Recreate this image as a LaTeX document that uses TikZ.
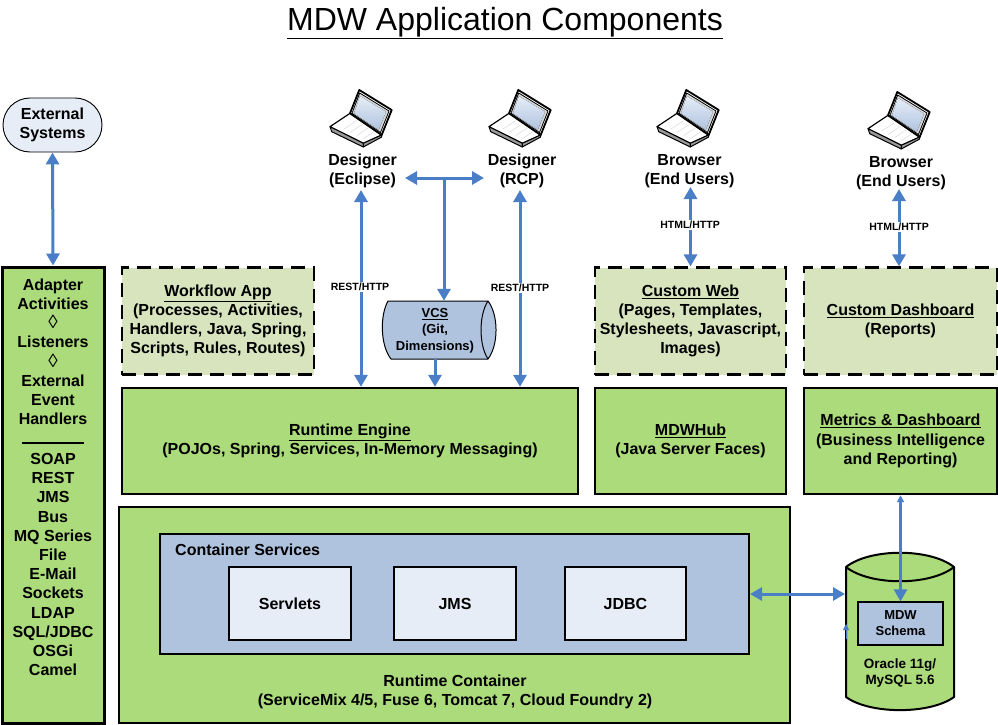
\documentclass[tikz,border=0pt]{standalone}
\usepackage{fontspec}
\setmainfont{Liberation Sans}
\usetikzlibrary{arrows.meta,calc,shapes.misc}

\definecolor{boxgreen}{HTML}{ABDB7A}
\definecolor{palegreen}{HTML}{D7E4BD}
\definecolor{boxblue}{HTML}{AFC3DF}
\definecolor{paleblue}{HTML}{E6EDF7}
\definecolor{linkblue}{HTML}{4A7EC6}

\newcommand{\lozengemark}{{\normalfont\fontsize{19}{19}\selectfont ◊}}

\tikzset{
  basetext/.style={font=\bfseries\fontsize{16}{19.2}\selectfont,align=center,text=black,inner sep=0pt},
  greenbox/.style={basetext,draw=black,fill=boxgreen,line width=2.4pt},
  dashbox/.style={basetext,draw=black,fill=palegreen,line width=2.2pt,dash pattern=on 14pt off 8pt},
  bluebox/.style={basetext,draw=black,fill=boxblue,line width=2pt},
  palebox/.style={basetext,draw=black,fill=paleblue,line width=2pt},
  linklabel/.style={font=\bfseries\fontsize{10.5}{12}\selectfont,fill=white,inner sep=1pt,text=black},
  smalltext/.style={basetext,font=\bfseries\fontsize{13.5}{16}\selectfont},
  biarrow/.style={{Triangle[length=12pt,width=13pt]}-{Triangle[length=12pt,width=13pt]},draw=linkblue,line width=3pt},
  onearrow/.style={-{Triangle[length=12pt,width=13pt]},draw=linkblue,line width=3pt},
  laptop/.pic={
    \draw[fill=white,draw=black,line width=1.2pt,line join=round]
      (0,36.7) -- (20,23.3) -- (51.7,45) -- (33.3,53.3) -- cycle;
    \draw[fill=black!40,draw=black,line width=1pt,line join=round]
      (0,36.7) -- (33.3,53.3) -- (33.3,57) -- (1.7,41.7) -- cycle;
    \draw[fill=black!40,draw=black,line width=1pt,line join=round]
      (33.3,53.3) -- (51.7,45) -- (51.7,47) -- (33.3,57) -- cycle;
    \foreach \row in {0.2,0.4,0.6,0.8}
      \draw[black!15,line width=0.5pt] ($(7,36)!\row!(40,52)$) -- ($(21,27)!\row!(50,45)$);
    \draw[fill=white,draw=black,line width=1.8pt,line join=round]
      (29.3,0) -- (61.7,20) -- (51.7,45) -- (20,23.3) -- cycle;
    \draw[fill=black!15,draw=black,line width=0.8pt,line join=round]
      (29.7,3) -- (59,21) -- (50.5,42.5) -- (22,23.3) -- cycle;
    \fill[top color=paleblue,bottom color=boxblue] (30,6) -- (56,21.7) -- (48.7,40) -- (24,23.3) -- cycle;
  }
}

\begin{document}
\begin{tikzpicture}[x=1pt,y=-1pt]
  \useasboundingbox (0,0) rectangle (998,725);

  \node[font=\fontsize{32}{36}\selectfont,inner sep=0pt] (title) at (505,23) {\underline{MDW Application Components}};

  % left column
  \node[basetext,draw=black,fill=paleblue,line width=0.9pt,rounded rectangle,minimum width=99pt,minimum height=54pt] (extsys) at (52.5,125) {External\\Systems};
  \node[greenbox,line width=3pt,minimum width=102pt,minimum height=456pt] (adapter) at (53,495) {};
  \node[basetext] (adaptertext) at (53,477.2) {Adapter\\Activities\\\lozengemark\\Listeners\\\lozengemark\\External\\Event\\Handlers\\\rule{63pt}{2pt}\\[1.4pt]SOAP\\REST\\JMS\\Bus\\MQ Series\\File\\E-Mail\\Sockets\\LDAP\\SQL/JDBC\\OSGi\\Camel};

  % laptops
  \pic at (330,90) {laptop};
  \pic at (489,90) {laptop};
  \pic at (657,90) {laptop};
  \pic at (868,92) {laptop};

  \node[basetext] (eclipse) at (362.5,171) {Designer\\(Eclipse)};
  \node[basetext] (rcp) at (522,171) {Designer\\(RCP)};
  \node[basetext] (browser) at (689.5,171) {Browser\\(End Users)};
  \node[basetext] (dashbrowser) at (901,173) {Browser\\(End Users)};

  % top row of components
  \node[dashbox,minimum width=192pt,minimum height=107pt] (workflow) at (218,321) {\underline{Workflow App}\\(Processes, Activities,\\Handlers, Java, Spring,\\Scripts, Rules, Routes)};
  \node[dashbox,minimum width=191pt,minimum height=107pt] (customweb) at (690.5,321) {\underline{Custom Web}\\(Pages, Templates,\\Stylesheets, Javascript,\\Images)};
  \node[dashbox,minimum width=193pt,minimum height=107pt] (customdash) at (900.5,321) {\underline{Custom Dashboard}\\(Reports)};

  % version control barrel
  \draw[fill=boxblue,line width=1pt,line join=round]
    (388,301) -- (488,301) .. controls (498.7,315) and (498.7,345) .. (488,359)
    -- (391,359) .. controls (380,345) and (380,315) .. (388,301) -- cycle;
  \draw[line width=1pt] (488,301) .. controls (478.7,315) and (478.7,345) .. (488,359);
  \node[inner sep=0pt,minimum width=113pt,minimum height=58pt] (vcs) at (439.5,330) {};
  \node[smalltext,font=\bfseries\fontsize{13}{16.5}\selectfont] (vcstext) at (435,330.5) {\underline{VCS}\\(Git,\\Dimensions)};

  % middle row
  \node[greenbox,minimum width=456pt,minimum height=106pt] (engine) at (350,441) {\underline{Runtime Engine}\\(POJOs, Spring, Services, In-Memory Messaging)};
  \node[greenbox,minimum width=191pt,minimum height=106pt] (hub) at (690.5,441) {\underline{MDWHub}\\(Java Server Faces)};
  \node[greenbox,minimum width=193pt,minimum height=106pt] (metrics) at (900.5,441) {\underline{Metrics \& Dashboard}\\(Business Intelligence\\and Reporting)};

  % container
  \node[greenbox,minimum width=671pt,minimum height=216pt] (container) at (454.5,615) {};
  \node[basetext] (containertext) at (455,692) {Runtime Container\\(ServiceMix 4/5, Fuse 6, Tomcat 7, Cloud Foundry 2)};
  \node[bluebox,minimum width=589pt,minimum height=120pt] (services) at (454.5,594) {};
  \node[basetext,anchor=west] (servicestext) at (175,550) {Container Services};
  \node[palebox,minimum width=122pt,minimum height=73pt] (servlets) at (290,603.5) {Servlets};
  \node[palebox,minimum width=122pt,minimum height=73pt] (jms) at (455,603.5) {JMS};
  \node[palebox,minimum width=121pt,minimum height=73pt] (jdbc) at (625.5,603.5) {JDBC};

  % database
  \draw[fill=boxgreen,line width=2pt,line join=round]
    (846,567) .. controls (870,548) and (930,548) .. (954,567) -- (954,697)
    .. controls (930,714.5) and (870,714.5) .. (846,697) -- cycle;
  \draw[line width=2pt] (846,567) .. controls (870,586) and (930,586) .. (954,567);
  \node[inner sep=0pt,minimum width=108pt,minimum height=157pt] (dbase) at (900,631.5) {};
  \node[smalltext] (dbtext) at (900,673) {Oracle 11g/\\MySQL 5.6};
  \node[bluebox,line width=1.2pt,font=\bfseries\fontsize{13}{16}\selectfont,minimum width=85pt,minimum height=43pt] (schema) at (900.5,623.5) {MDW\\Schema};

  % connectors
  \coordinate (vcsjoin) at (444,178);
  \coordinate (vcsdrop) at (435,359);
  \coordinate (eclipselink) at (361,190);
  \coordinate (rcplink) at (520,190);
  \coordinate (eclipseside) at (405,178);
  \coordinate (rcpside) at (484,178);
  \coordinate (browserlink) at (690.5,187);
  \coordinate (dashlink) at (899,189);
  \coordinate (dblink) at (845,594);
  \coordinate (straytail) at (846,639);
  \coordinate (strayhead) at (846,624);

  \draw[biarrow] (extsys.south) -- (adapter.north);
  \draw[biarrow] (eclipselink) -- (eclipselink |- engine.north);
  \draw[biarrow] (rcplink) -- (rcplink |- engine.north);
  \draw[biarrow] (eclipseside) -- (rcpside);
  \draw[onearrow] (vcsjoin) -- (vcsjoin |- vcs.north);
  \draw[onearrow] (vcsdrop) -- (vcsdrop |- engine.north);
  \draw[biarrow] (browserlink) -- (browserlink |- customweb.north);
  \draw[biarrow] (dashlink) -- (dashlink |- customdash.north);
  \draw[biarrow] (services.east |- dblink) -- (dblink);
  \draw[{Triangle[length=7pt,width=7pt]}-{Triangle[length=12pt,width=13pt]},draw=linkblue,line width=2.4pt] (metrics.south) -- (schema.north);
  \draw[-{Triangle[length=6pt,width=6pt]},draw=linkblue,line width=1pt] (straytail) -- (strayhead);

  \node[linklabel] (restleft) at (360,287) {REST/HTTP};
  \node[linklabel] (restright) at (520,288) {REST/HTTP};
  \node[linklabel] (htmlleft) at (690,225) {HTML/HTTP};
  \node[linklabel] (htmlright) at (899,227) {HTML/HTTP};
\end{tikzpicture}
\end{document}
